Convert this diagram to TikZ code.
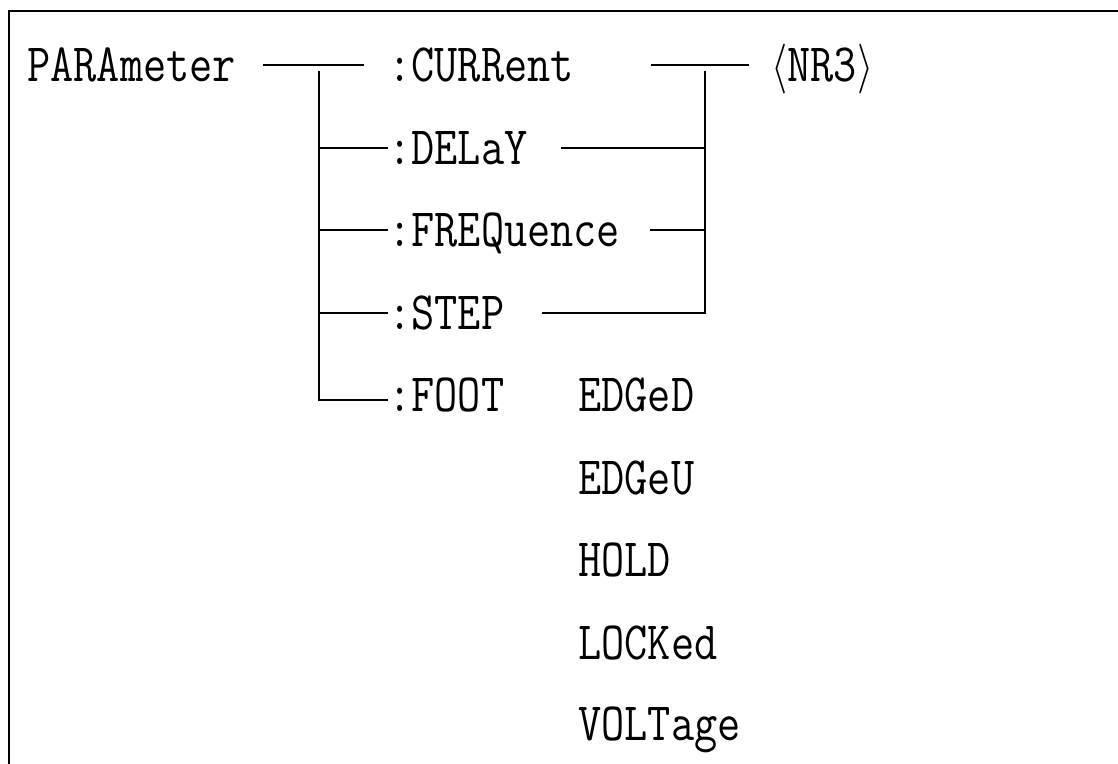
\documentclass[tikz,border=0pt]{standalone}
\usepackage{graphicx}
\usepackage{tikz}
\usetikzlibrary{positioning}
\tikzstyle{cmd} = [inner sep=0pt, anchor=west, text height=16.5pt, text depth=0pt, font=\fontsize{27}{30}\selectfont\ttfamily]
\tikzstyle{wire} = [line width=0.7pt]
\tikzstyle{frame} = [line width=1pt]
\newcommand{\narrow}[1]{\scalebox{0.833}[1]{#1}}

\begin{document}
\begin{tikzpicture}[x=0.5pt, y=-0.5pt]
\useasboundingbox (0,0) rectangle (1118,764);
% Frame
\draw[frame] (1118,11) -- (9,11) -- (9,764);

% Root and subcommands
\node[cmd] (para) at (27,65) {\narrow{PARAmeter}};
\node[cmd] (curr) at (388,65) {\narrow{:CURRent}};
\node[cmd] (delay) at (388,148) {\narrow{:DELaY}};
\node[cmd] (freq) at (388,230) {\narrow{:FREQuence}};
\node[cmd] (stepcmd) at (388,313) {\narrow{:STEP}};
\node[cmd] (foot) at (388,395) {\narrow{:FOOT}};

% Value
\node[cmd] (nr3) at (771,65) {\narrow{$\langle$NR3$\rangle$}};

% FOOT choices
\node[cmd] (edged) at (578,395) {\narrow{EDGeD}};
\node[cmd] (edgeu) at (578,478) {\narrow{EDGeU}};
\node[cmd] (hold) at (578,560) {\narrow{HOLD}};
\node[cmd] (locked) at (578,643) {\narrow{LOCKed}};
\node[cmd] (voltage) at (578,724) {\narrow{VOLTage}};

% Junctions
\coordinate (j1) at (319,65);
\coordinate (j2) at (705,65);
\coordinate (footend) at ([yshift=-2.5pt]foot.west);

% Left tree
\draw[wire] ([xshift=13.5pt]para.east) -- ([xshift=-12pt]curr.west);
\draw[wire] ([yshift=-3pt]j1) -- (j1 |- footend) -- (footend);
\foreach \n in {delay,freq,stepcmd}
  \draw[wire] (j1 |- \n.west) -- (\n.west);

% Right tree
\draw[wire] ([xshift=38.5pt]curr.east) -- ([xshift=-11pt]nr3.west);
\draw[wire] ([yshift=-3pt]j2) -- (j2 |- stepcmd.west) -- ([xshift=18.5pt]stepcmd.east);
\draw[wire] ([xshift=16.5pt]delay.east) -- (j2 |- delay.west);
\draw[wire] ([xshift=15pt]freq.east) -- (j2 |- freq.west);
\end{tikzpicture}
\end{document}
